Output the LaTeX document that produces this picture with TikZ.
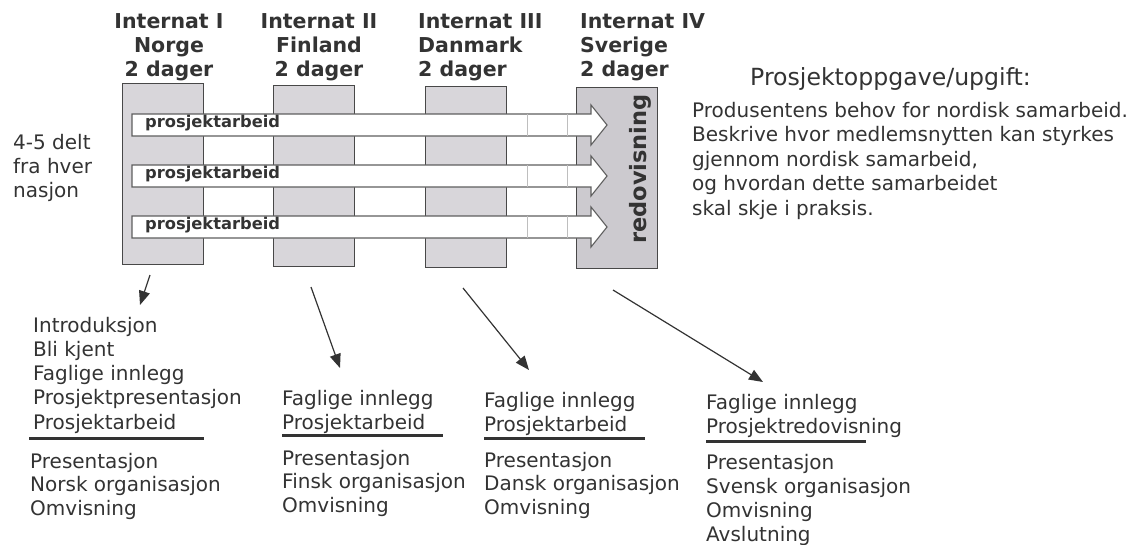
\documentclass[tikz,border=0pt]{standalone}
\usepackage{fontspec}
\setmainfont{DejaVu Sans}
\usetikzlibrary{arrows.meta}
\definecolor{ink}{HTML}{333333}
\definecolor{boxfill}{HTML}{D8D6DA}
\definecolor{boxfillr}{HTML}{CCCACF}
\definecolor{boxedge}{HTML}{484848}
\definecolor{arredge}{HTML}{5E5E5E}
\tikzset{
  hdr/.style={font=\bfseries\fontsize{20.5}{24}\selectfont,text=ink,inner sep=0pt},
  txt/.style={font=\fontsize{20}{24}\selectfont,text=ink,inner sep=0pt,anchor=base west},
  daybox/.style={draw=boxedge,line width=1.4pt,minimum width=81pt,minimum height=181pt,anchor=north west,inner sep=0pt},
  bigarrow/.style={draw=arredge,line width=1.1pt,fill=white},
  pointer/.style={draw=ink,line width=1.2pt,-{Triangle[length=14pt,width=11pt]}},
  rule/.style={draw=ink,line width=3pt}
}
\begin{document}
\begin{tikzpicture}[x=1pt,y=-1pt]
\useasboundingbox (0,0) rectangle (1131,544);
% headers
\foreach \t [count=\i] in {Internat I,Norge,2 dager}
  \node[hdr,anchor=base] (hI\i) at (169,4+24*\i) {\t};
\foreach \t [count=\i] in {Internat II,Finland,2 dager}
  \node[hdr,anchor=base] (hII\i) at (319,4+24*\i) {\t};
\foreach \t [count=\i] in {Internat III,Danmark,2 dager}
  \node[hdr,anchor=base west] (hIII\i) at (418,4+24*\i) {\t};
\foreach \t [count=\i] in {Internat IV,Sverige,2 dager}
  \node[hdr,anchor=base west] (hIV\i) at (580,4+24*\i) {\t};
% the four gatherings
\foreach \x/\y/\c [count=\i] in {122/83/boxfill,273/85/boxfill,425/86/boxfill,576/87/boxfillr}
  \node[daybox,fill=\c] (day\i) at (\x,\y) {};
% project work running through
\foreach \y [count=\i] in {125,176,227}{
  \draw[bigarrow] (132,\y-11) -- (591,\y-11) -- (591,\y-20) -- (607,\y)
    -- (591,\y+20) -- (591,\y+11) -- (132,\y+11) -- cycle;
  \draw[arredge!40,line width=0.6pt] (527,\y-11) -- (527,\y+11) (567,\y-11) -- (567,\y+11);
  \node[font=\bfseries\fontsize{16.3}{18}\selectfont,text=ink,inner sep=0pt,anchor=base west]
    (work\i) at (145,\y+2) {prosjektarbeid};
}
\node[rotate=90,font=\bfseries\fontsize{22.5}{24}\selectfont,text=ink,inner sep=0pt,anchor=base]
  (redo) at (646,169) {redovisning};
% left note
\foreach \t [count=\i] in {4-5 delt,fra hver,nasjon}
  \node[txt] (side\i) at (13,125+24*\i) {\t};
% task description
\node[txt,font=\fontsize{23.6}{28}\selectfont] (task) at (750,85) {Prosjektoppgave/upgift:};
\foreach \t [count=\i] in {Produsentens behov for nordisk samarbeid.,
    Beskrive hvor medlemsnytten kan styrkes,gjennom nordisk samarbeid{,},
    og hvordan dette samarbeidet,skal skje i praksis.}
  \node[txt] (desc\i) at (692,92.5+24.5*\i) {\t};
% programme of each gathering
\foreach \t [count=\i] in {Introduksjon,Bli kjent,Faglige innlegg,Prosjektpresentasjon,Prosjektarbeid}
  \node[txt] (pI\i) at (33,308+24.2*\i) {\t};
\foreach \t [count=\i] in {Presentasjon,Norsk organisasjon,Omvisning}
  \node[txt] (qI\i) at (30,444.5+23.5*\i) {\t};
\foreach \t [count=\i] in {Faglige innlegg,Prosjektarbeid}
  \node[txt] (pII\i) at (282,381+24*\i) {\t};
\foreach \t [count=\i] in {Presentasjon,Finsk organisasjon,Omvisning}
  \node[txt] (qII\i) at (282,441.5+23.5*\i) {\t};
\foreach \t [count=\i] in {Faglige innlegg,Prosjektarbeid}
  \node[txt] (pIII\i) at (484,383+24*\i) {\t};
\foreach \t [count=\i] in {Presentasjon,Dansk organisasjon,Omvisning}
  \node[txt] (qIII\i) at (484,443.5+23.5*\i) {\t};
\foreach \t [count=\i] in {Faglige innlegg,Prosjektredovisning}
  \node[txt] (pIV\i) at (706,385+24*\i) {\t};
\foreach \t [count=\i] in {Presentasjon,Svensk organisasjon,Omvisning,Avslutning}
  \node[txt] (qIV\i) at (706,445+24*\i) {\t};
\draw[rule] (29,438) -- (204,438);
\draw[rule] (282,435) -- (443,435);
\draw[rule] (484,438) -- (645,438);
\draw[rule] (706,441) -- (866,441);
% pointers from the gatherings to their programme
\coordinate (s1) at (150,275); \coordinate (e1) at (140,305);
\coordinate (s2) at (311,287); \coordinate (e2) at (340,368);
\coordinate (s3) at (463,288); \coordinate (e3) at (529,370);
\coordinate (s4) at (613,290); \coordinate (e4) at (763,382);
\foreach \i in {1,...,4}
  \draw[pointer] (s\i) -- (e\i);
\end{tikzpicture}
\end{document}
